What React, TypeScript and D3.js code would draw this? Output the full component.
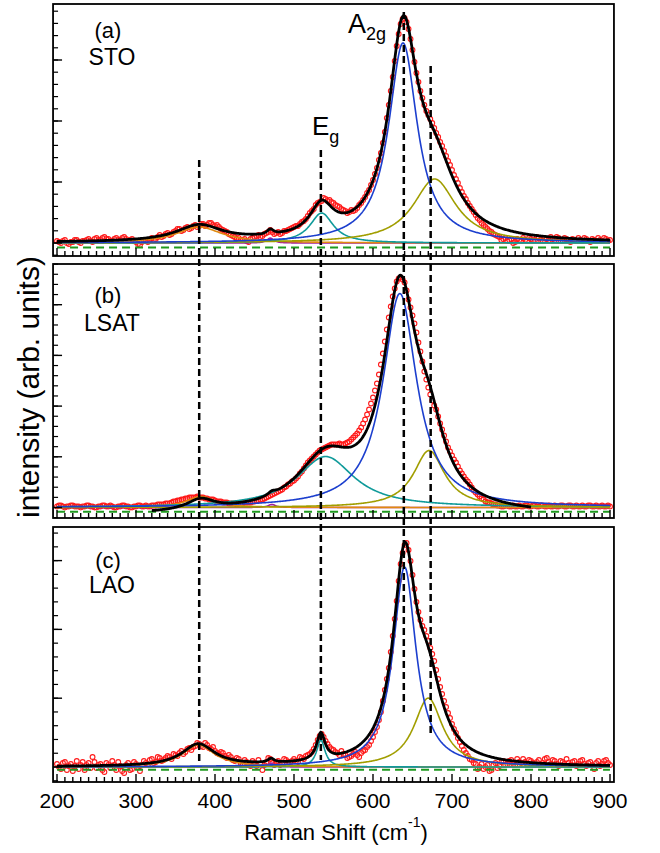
import React from "react";
import * as d3 from "d3";

// ---------- data (intensity in arb. units) ----------
// main samples every 5 cm^-1 from 200 to 900, second set at the half steps (202.5 ... 897.5)
const shiftStart = 200;
const shiftStep = 5;
const halfStart = 202.5;

const stoIntensity = [
  2, 0, 3, -1, 1, 3, 0, 2, 4, 1,
  5, 3, 6, 4, 2, 5, 3, 6, 2, 4,
  1, -2, 3, 1, 5, 4, 8, 7, 10, 9,
  12, 14, 13, 16, 15, 18, 17, 19, 18, 20,
  17, 16, 13, 11, 8, 6, 5, 3, 2, 4,
  6, 8, 7, 10, 13, 9, 11, 10, 12, 14,
  16, 17, 21, 24, 30, 34, 40, 42, 44, 43,
  40, 37, 34, 32, 31, 32, 35, 40, 46, 53,
  63, 75, 90, 111, 138, 166, 197, 219, 225, 214,
  193, 170, 152, 138, 128, 120, 110, 101, 92, 82,
  73, 64, 55, 47, 40, 34, 28, 23, 18, 14,
  11, 8, 6, 4, 2, 4, 1, 3, 5, 2,
  4, 3, 5, 2, 4, 6, 3, 5, 2, 4,
  1, 3, 5, 2, 4, 1, 3, 5, 2, 4,
  3,
];
const stoIntensityHalf = [
  1, 2, 0, 1, 3, 1, 2, 3, 2, 4,
  3, 5, 4, 2, 4, 3, 5, 4, 3, 2,
  -1, 1, 2, 3, 3, 6, 6, 9, 8, 11,
  14, 12, 15, 14, 17, 16, 19, 17, 20, 18,
  18, 14, 12, 9, 7, 4, 3, 4, 1, 5,
  7, 6, 9, 11, 11, 10, 9, 12, 13, 15,
  17, 19, 22, 27, 32, 38, 41, 45, 42, 41,
  38, 36, 33, 30, 33, 33, 38, 43, 50, 58,
  69, 83, 100, 125, 152, 182, 209, 224, 221, 204,
  181, 161, 145, 132, 124, 115, 106, 97, 87, 78,
  68, 60, 51, 44, 37, 31, 25, 20, 16, 12,
  9, 7, 3, 5, 3, 0, 4, 2, 3, 5,
  2, 6, 3, 5, 3, 4, 6, 2, 5, 3,
  4, 2, 3, 5, 2, 4, 2, 3, 5, 2,
];

const lsatIntensity = [
  1, 2, 0, 1, 2, 1, 0, 1, 2, 1,
  0, 1, 2, 1, 1, 0, 1, 2, 1, 0,
  1, 2, 1, 1, 2, 2, 3, 3, 4, 5,
  6, 7, 8, 9, 10, 10, 10, 10, 9, 8,
  7, 6, 5, 5, 4, 4, 4, 4, 5, 5,
  6, 7, 8, 10, 12, 14, 16, 18, 21, 24,
  27, 31, 36, 42, 47, 51, 55, 58, 60, 62,
  63, 63, 63, 64, 66, 70, 74, 80, 88, 98,
  110, 124, 143, 166, 190, 211, 226, 230, 225, 208,
  192, 175, 156, 136, 120, 107, 98, 84, 72, 60,
  52, 45, 37, 31, 26, 20, 15, 11, 8, 5,
  4, 3, 2, 1, 2, 1, 1, 2, 1, 2,
  1, 2, 1, 2, 1, 1, 2, 1, 2, 1,
  2, 1, 1, 2, 1, 2, 1, 1, 2, 1,
  1,
];
const lsatIntensityHalf = [
  2, 1, 1, 2, 1, 1, 1, 2, 1, 0,
  1, 2, 1, 2, 0, 1, 2, 1, 0, 1,
  2, 1, 2, 1, 2, 3, 3, 4, 4, 6,
  7, 8, 9, 10, 10, 11, 10, 9, 8, 8,
  6, 6, 5, 4, 4, 3, 4, 5, 5, 6,
  7, 8, 9, 11, 13, 15, 17, 20, 23, 26,
  29, 34, 39, 45, 49, 53, 57, 59, 61, 63,
  63, 64, 63, 65, 68, 72, 77, 84, 93, 104,
  117, 133, 154, 178, 201, 219, 229, 228, 217, 200,
  184, 165, 146, 128, 113, 102, 91, 78, 66, 56,
  48, 41, 34, 28, 23, 17, 13, 9, 6, 5,
  3, 2, 1, 2, 1, 2, 1, 1, 2, 1,
  2, 1, 2, 1, 2, 1, 1, 2, 1, 2,
  1, 2, 1, 1, 2, 1, 2, 1, 1, 2,
];

const laoIntensity = [
  3, -2, 5, 1, -4, 6, 2, -3, 4, 10,
  -1, 3, -5, 2, 6, -3, 1, -6, 4, -2,
  3, -4, 6, 2, 8, 5, 9, 7, 11, 8,
  12, 14, 13, 18, 17, 21, 23, 20, 22, 18,
  16, 13, 14, 9, 10, 6, 8, 3, 5, 1,
  4, 7, -3, 5, 8, 2, 6, 3, 7, 4,
  8, 5, 9, 11, 13, 18, 27, 33, 26, 20,
  17, 14, 16, 12, 10, 13, 12, 14, 17, 22,
  30, 40, 55, 77, 99, 131, 166, 203, 222, 217,
  192, 165, 147, 137, 126, 113, 97, 80, 66, 54,
  43, 34, 25, 17, 11, 7, 3, 0, -2, 2,
  -3, 4, 1, 6, 3, 7, 2, 5, 8, 3,
  6, 2, 7, 4, 9, 3, 6, 1, 5, 8,
  2, 6, 3, 7, 1, 5, -2, 6, 3, 7,
  2,
];
const laoIntensityHalf = [
  0, 4, -3, 3, 1, -2, 5, 2, -1, 5,
  2, -3, 4, -1, 2, 5, -4, 2, -3, 5,
  0, 2, 4, 7, 4, 10, 6, 9, 10, 13,
  11, 16, 15, 19, 20, 24, 21, 24, 19, 20,
  14, 15, 11, 12, 7, 9, 4, 7, 2, 6,
  1, 3, 2, 9, 4, 5, 2, 8, 5, 6,
  6, 10, 8, 12, 15, 22, 31, 30, 23, 18,
  15, 12, 13, 9, 11, 15, 10, 16, 20, 26,
  35, 47, 66, 88, 115, 148, 186, 214, 224, 206,
  178, 155, 141, 131, 119, 106, 88, 73, 60, 49,
  38, 29, 21, 14, 8, 4, -2, 3, 0, -4,
  2, -1, 5, 2, 6, 3, 8, 4, 5, 7,
  4, 5, 2, 8, 5, 7, 3, 6, 3, 4,
  5, 1, 6, 3, 4, 2, 4, 1, 6, 4,
];

// fitted Lorentzian components: A2g, shoulder, Eg, 380 mode, 470 mode
const stoCenters = [638, 678, 535, 380, 470];
const stoHeights = [200, 64, 30, 16, 5];
const stoHalfWidths = [22, 33, 18, 35, 5];

const lsatCenters = [634, 671, 540, 382, 472];
const lsatHeights = [214, 57, 51, 11, 3];
const lsatHalfWidths = [26, 24, 44, 22, 6];

const laoCenters = [640, 670, 534, 379, 471];
const laoHeights = [200, 69, 27, 22, 4];
const laoHalfWidths = [17.5, 22, 6.5, 25, 5];

const fitOffsets = [0, -8, 0];
const fitRanges = [[200, 900], [320, 800], [200, 900]];
const baselineLevels = [-4.5, -4.2, -2.7];

const panelLabels = ["(a)", "(b)", "(c)"];
const sampleNames = ["STO", "LSAT", "LAO"];
const xTicks = [200, 300, 400, 500, 600, 700, 800, 900];
const modeShifts = [380, 534, 639, 673];

// ---------- styles / layout ----------
const componentColors = ["#1c3fce", "#a19e00", "#0f9a9a", "#e08a10", "#a0209c"];
const FONT = "'Liberation Sans', Arial, Helvetica, sans-serif";

const panelLayout = [
  { top: 4, bottom: 256, zeroY: 243, tickStep: 61, labelY: 38, nameY: 65 },
  { top: 264, bottom: 518, zeroY: 507.5, tickStep: 50.7, labelY: 303, nameY: 331 },
  { top: 527, bottom: 782, zeroY: 767, tickStep: 68.8, labelY: 568, nameY: 593 },
];
const modeLineExtents = [
  [160, 765],
  [150, 760],
  [12, 715],
  [66, 737],
];

const lorentz = (x: number, c: number, h: number, w: number) =>
  h / (1 + ((x - c) / w) * ((x - c) / w));

export default function App() {
  const x = d3.scaleLinear().domain([200, 900]).range([57, 610]);
  const frameLeft = x(195);
  const frameRight = x(905);

  const datasets = [stoIntensity, lsatIntensity, laoIntensity];
  const halfSets = [stoIntensityHalf, lsatIntensityHalf, laoIntensityHalf];
  const centers = [stoCenters, lsatCenters, laoCenters];
  const heights = [stoHeights, lsatHeights, laoHeights];
  const widths = [stoHalfWidths, lsatHalfWidths, laoHalfWidths];

  const grid = d3.range(200, 900.5, 1);

  const panels = panelLayout.map((p, pi) => {
    const y = d3
      .scaleLinear()
      .domain([p.zeroY - p.bottom, p.zeroY - p.top])
      .range([p.bottom, p.top]);
    const line = d3
      .line<[number, number]>()
      .x((d) => x(d[0]))
      .y((d) => y(d[1]));
    const comps = centers[pi].map((c, k) =>
      line(grid.map((g) => [g, lorentz(g, c, heights[pi][k], widths[pi][k])]))
    );
    const [lo, hi] = fitRanges[pi];
    const fitGrid = grid.filter((g) => g >= lo && g <= hi);
    const total = line(
      fitGrid.map((g) => [
        g,
        centers[pi].reduce((s, c, k) => s + lorentz(g, c, heights[pi][k], widths[pi][k]), 0) +
          fitOffsets[pi],
      ])
    );
    const pts = [
      ...datasets[pi].map((v, i) => [shiftStart + i * shiftStep, v]),
      ...halfSets[pi].map((v, i) => [halfStart + i * shiftStep, v]),
    ];
    const [d0, d1] = y.domain();
    const yMajor = d3.range(0, d1, p.tickStep);
    const yMinor: number[] = [];
    for (let t = 0; t <= d1; t += p.tickStep / 5) yMinor.push(t);
    for (let t = -p.tickStep / 5; t >= d0; t -= p.tickStep / 5) yMinor.push(t);
    const xMinor = d3.range(200, 901, 10);
    return (
      <g key={pi}>
        <defs>
          <clipPath id={`clip${pi}`}>
            <rect x={frameLeft} y={p.top} width={frameRight - frameLeft} height={p.bottom - p.top} />
          </clipPath>
        </defs>
        <g clipPath={`url(#clip${pi})`}>
          {pts.map((d, i) => (
            <circle key={i} cx={x(d[0])} cy={y(d[1])} r={2.4} fill="none" stroke="#ff1a1a" strokeWidth={1.1} />
          ))}
          <line
            x1={frameLeft + 4}
            x2={frameRight - 4}
            y1={y(baselineLevels[pi])}
            y2={y(baselineLevels[pi])}
            stroke="#1f9a1f"
            strokeWidth={2}
            strokeDasharray="8,5"
          />
          {[4, 3, 2, 1, 0].map((k) => (
            <path key={k} d={comps[k] || ""} fill="none" stroke={componentColors[k]} strokeWidth={1.6} />
          ))}
          <path d={total || ""} fill="none" stroke="#000" strokeWidth={2.8} />
        </g>
        {xMinor.map((t) => (
          <line
            key={t}
            x1={x(t)}
            x2={x(t)}
            y1={p.bottom}
            y2={p.bottom - (t % 100 === 0 ? 8 : 5)}
            stroke="#000"
            strokeWidth={1.4}
          />
        ))}
        {yMinor.map((t, i) => (
          <line key={"m" + i} x1={frameLeft} x2={frameLeft + 5} y1={y(t)} y2={y(t)} stroke="#000" strokeWidth={1.2} />
        ))}
        {yMajor.map((t, i) => (
          <line key={"M" + i} x1={frameLeft} x2={frameLeft + 9} y1={y(t)} y2={y(t)} stroke="#000" strokeWidth={1.4} />
        ))}
        <rect
          x={frameLeft}
          y={p.top}
          width={frameRight - frameLeft}
          height={p.bottom - p.top}
          fill="none"
          stroke="#000"
          strokeWidth={1.8}
        />
        <text x={108} y={p.labelY} fontSize={22} fontFamily={FONT} textAnchor="middle">
          {panelLabels[pi]}
        </text>
        <text x={112} y={p.nameY} fontSize={23} fontFamily={FONT} textAnchor="middle">
          {sampleNames[pi]}
        </text>
      </g>
    );
  });

  return (
    <svg
      width={660}
      height={853}
      style={{ position: "absolute", left: 0, top: 0, background: "#fff" }}
      fontFamily={FONT}
    >
      <rect x={0} y={0} width={660} height={853} fill="#fff" />
      {panels}
      {modeShifts.map((m, i) => (
        <line
          key={m}
          x1={x(m)}
          x2={x(m)}
          y1={modeLineExtents[i][0]}
          y2={modeLineExtents[i][1]}
          stroke="#000"
          strokeWidth={2.5}
          strokeDasharray="7,4"
        />
      ))}
      <text x={312} y={135} fontSize={26}>
        E<tspan fontSize={18} dy={8}>g</tspan>
      </text>
      <text x={348} y={33} fontSize={27}>
        A<tspan fontSize={18} dy={7}>2g</tspan>
      </text>
      {xTicks.map((t) => (
        <text key={t} x={x(t)} y={808} fontSize={21} textAnchor="middle">
          {t}
        </text>
      ))}
      <text x={336} y={840} fontSize={22} textAnchor="middle">
        Raman Shift (cm<tspan fontSize={14} dy={-13}>-1</tspan>
        <tspan dy={13}>)</tspan>
      </text>
      <text transform="translate(39,387) rotate(-90)" fontSize={30} textAnchor="middle">
        intensity (arb. units)
      </text>
    </svg>
  );
}
